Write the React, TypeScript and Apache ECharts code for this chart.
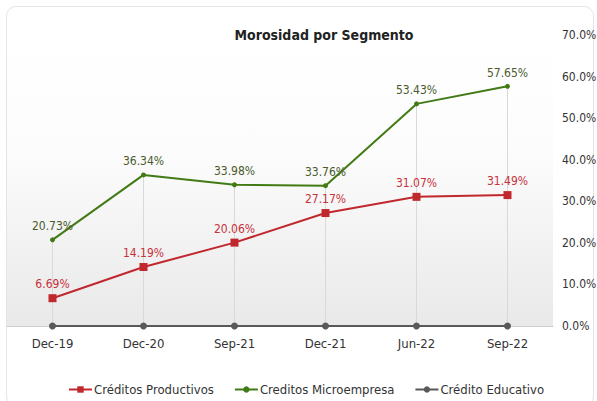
import React, { useEffect, useRef } from "react";
import * as echarts from "echarts";

const categories = ["Dec-19", "Dec-20", "Sep-21", "Dec-21", "Jun-22", "Sep-22"];
const productivos = [6.69, 14.19, 20.06, 27.17, 31.07, 31.49];
const microempresa = [20.73, 36.34, 33.98, 33.76, 53.43, 57.65];
const educativo = [0, 0, 0, 0, 0, 0];
const seriesNames = ["Créditos Productivos", "Creditos Microempresa", "Crédito Educativo"];
const titleText = "Morosidad por Segmento";

const FONT = "'DejaVu Sans Condensed', 'DejaVu Sans', sans-serif";

export default function App() {
  const ref = useRef<HTMLDivElement>(null);
  useEffect(() => {
    if (!ref.current) return;
    const chart = echarts.init(ref.current, undefined, { renderer: "svg" });
    const guide = categories.map((_, i) => Math.max(productivos[i], microempresa[i], educativo[i]));
    chart.setOption({
      animation: false,
      textStyle: { fontFamily: FONT },
      grid: {
        left: 7,
        right: 44,
        top: 35,
        bottom: 75,
        show: true,
        borderWidth: 0,
        outerBoundsMode: "none",
        containLabel: false,
        backgroundColor: new echarts.graphic.LinearGradient(0, 0, 0, 1, [
          { offset: 0, color: "#ffffff" },
          { offset: 0.4, color: "#fcfcfc" },
          { offset: 1, color: "#e9e9e9" },
        ]),
      },
      graphic: [
        {
          type: "text",
          x: 324,
          y: 35,
          style: {
            text: titleText,
            fontFamily: FONT,
            fontSize: 14,
            fontWeight: "bold",
            fill: "#222",
            align: "center",
            verticalAlign: "middle",
          },
        },
      ],
      legend: {
        data: seriesNames,
        left: 68,
        top: 383,
        padding: 0,
        itemWidth: 23,
        itemHeight: 8,
        itemGap: 20,
        textStyle: { fontFamily: FONT, fontSize: 13, color: "#333", padding: [0, 0, 0, -3] },
      },
      xAxis: {
        type: "category",
        data: categories,
        boundaryGap: true,
        axisLine: { show: true, lineStyle: { color: "#cfcfcf", width: 1 } },
        axisTick: { show: false },
        axisLabel: { color: "#333", fontSize: 13, margin: 11, fontFamily: FONT },
        splitLine: { show: false },
      },
      yAxis: {
        type: "value",
        position: "right",
        min: 0,
        max: 70,
        interval: 10,
        axisLine: { show: false },
        axisTick: { show: false },
        splitLine: { show: false },
        axisLabel: {
          color: "#333",
          fontSize: 12,
          margin: 9,
          fontFamily: FONT,
          formatter: (v: number) => v.toFixed(1) + "%",
        },
      },
      series: [
        {
          name: "guide",
          type: "bar",
          data: guide,
          barWidth: 1,
          silent: true,
          z: 1,
          itemStyle: { color: "#d9d9d9" },
          label: { show: false },
        },
        {
          name: seriesNames[0],
          type: "line",
          data: productivos,
          symbol: "rect",
          symbolSize: 8,
          z: 4,
          lineStyle: { color: "#c0282d", width: 2 },
          itemStyle: { color: "#c0282d" },
          label: {
            show: true,
            position: "top",
            distance: 4,
            color: "#c8303a",
            fontSize: 12,
            fontFamily: FONT,
            formatter: (p: any) => p.value.toFixed(2) + "%",
          },
        },
        {
          name: seriesNames[1],
          type: "line",
          data: microempresa,
          symbol: "circle",
          symbolSize: 5,
          z: 4,
          lineStyle: { color: "#427a14", width: 2 },
          itemStyle: { color: "#427a14" },
          label: {
            show: true,
            position: "top",
            distance: 5,
            color: "#4a5a2c",
            fontSize: 12,
            fontFamily: FONT,
            formatter: (p: any) => p.value.toFixed(2) + "%",
          },
        },
        {
          name: seriesNames[2],
          type: "line",
          data: educativo,
          symbol: "circle",
          symbolSize: 7,
          z: 3,
          lineStyle: { color: "#595959", width: 2 },
          itemStyle: { color: "#595959" },
          label: { show: false },
        },
      ],
    });
    return () => chart.dispose();
  }, []);

  return (
    <div style={{ position: "fixed", left: 0, top: 0, width: 597, height: 401, background: "#fff" }}>
      <div
        style={{
          position: "absolute",
          left: 6,
          top: 6,
          width: 588,
          height: 400,
          border: "1px solid #e4e4e4",
          borderRadius: 10,
          boxSizing: "border-box",
        }}
      />
      <div ref={ref} style={{ position: "absolute", left: 0, top: 0, width: 597, height: 401 }} />
    </div>
  );
}
